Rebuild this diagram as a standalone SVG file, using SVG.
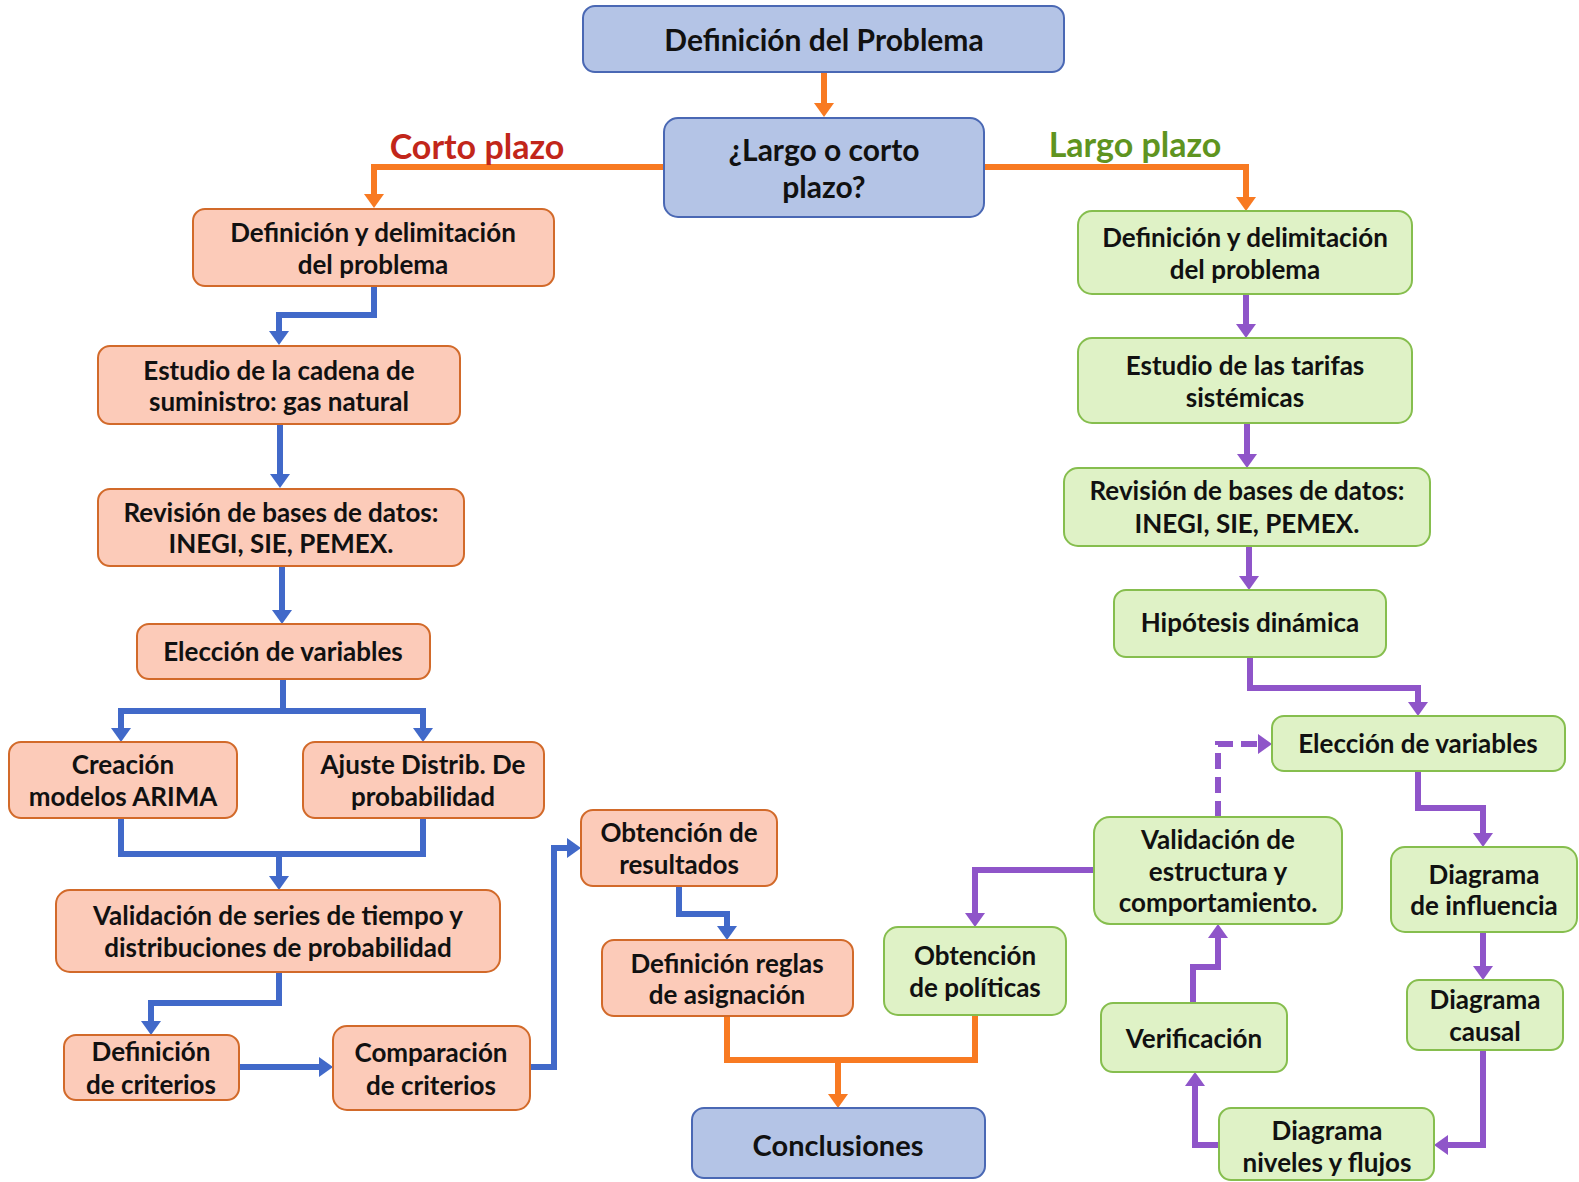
<svg xmlns="http://www.w3.org/2000/svg" width="1579" height="1182" viewBox="0 0 1579 1182">
<style>
text{font-family:Lato,"Open Sans","Liberation Sans",sans-serif;font-weight:bold;fill:#111;text-anchor:middle;dominant-baseline:central;font-size:26px}
.big{font-size:30px}
.nb rect{fill:#B4C4E6;stroke:#4A68B4;stroke-width:2}
.ns rect{fill:#FCCBB9;stroke:#D26A2A;stroke-width:2}
.ng rect{fill:#DFF2C6;stroke:#86BE4E;stroke-width:2}
.c{fill:none;stroke-width:6;stroke-linejoin:miter}
.o{stroke:#F87A22}
.b{stroke:#4169C9}
.p{stroke:#8F55C9}
.lab{font-size:34px}
</style>
<defs>
<marker id="ao" viewBox="0 0 14 20" refX="0" refY="10" markerWidth="14" markerHeight="20" markerUnits="userSpaceOnUse" orient="auto"><path d="M0,0 L14,10 L0,20 z" fill="#F87A22"/></marker>
<marker id="ab" viewBox="0 0 14 20" refX="0" refY="10" markerWidth="14" markerHeight="20" markerUnits="userSpaceOnUse" orient="auto"><path d="M0,0 L14,10 L0,20 z" fill="#4169C9"/></marker>
<marker id="ap" viewBox="0 0 14 20" refX="0" refY="10" markerWidth="14" markerHeight="20" markerUnits="userSpaceOnUse" orient="auto"><path d="M0,0 L14,10 L0,20 z" fill="#8F55C9"/></marker>
</defs>

<g id="connectors">
<path class="c o" d="M824,72 V103" marker-end="url(#ao)"/>
<path class="c o" d="M664,167 H374 V194" marker-end="url(#ao)"/>
<path class="c o" d="M984,167 H1246 V197" marker-end="url(#ao)"/>
<path class="c o" d="M727,1016 V1060 H975 V1015"/>
<path class="c o" d="M838,1060 V1094" marker-end="url(#ao)"/>

<path class="c b" d="M374,286 V315 H279 V331" marker-end="url(#ab)"/>
<path class="c b" d="M280,424 V474" marker-end="url(#ab)"/>
<path class="c b" d="M282,566 V610" marker-end="url(#ab)"/>
<path class="c b" d="M283,679 V711"/>
<path class="c b" d="M283,711 H121 V728" marker-end="url(#ab)"/>
<path class="c b" d="M283,711 H423 V728" marker-end="url(#ab)"/>
<path class="c b" d="M121,818 V854 H423 V818"/>
<path class="c b" d="M279,854 V876" marker-end="url(#ab)"/>
<path class="c b" d="M279,972 V1003 H151 V1021" marker-end="url(#ab)"/>
<path class="c b" d="M239,1067 H319" marker-end="url(#ab)"/>
<path class="c b" d="M530,1067 H554 V848 H567" marker-end="url(#ab)"/>
<path class="c b" d="M679,886 V914 H727 V926" marker-end="url(#ab)"/>

<path class="c p" d="M1246,294 V324" marker-end="url(#ap)"/>
<path class="c p" d="M1247,423 V454" marker-end="url(#ap)"/>
<path class="c p" d="M1249,546 V576" marker-end="url(#ap)"/>
<path class="c p" d="M1250,657 V688 H1418 V702" marker-end="url(#ap)"/>
<path class="c p" d="M1418,771 V808 H1483 V833" marker-end="url(#ap)"/>
<path class="c p" d="M1483,932 V966" marker-end="url(#ap)"/>
<path class="c p" d="M1483,1050 V1145 H1448" marker-end="url(#ap)"/>
<path class="c p" d="M1219,1145 H1195 V1086" marker-end="url(#ap)"/>
<path class="c p" d="M1193,1003 V967 H1218 V938" marker-end="url(#ap)"/>
<path class="c p" d="M1218,817 V744 H1258" stroke-dasharray="16 8" marker-end="url(#ap)"/>
<path class="c p" d="M1094,870 H975 V913" marker-end="url(#ap)"/>
</g>

<text class="lab" x="477" y="145" style="fill:#C2261A">Corto plazo</text>
<text class="lab" x="1135" y="143" style="fill:#5F9420">Largo plazo</text>

<g id="n-definicion-problema" class="nb"><rect x="583" y="6" width="481" height="66" rx="12"/><text class="big" x="824" y="39">Definición del Problema</text></g>
<g id="n-largo-corto" class="nb"><rect x="664" y="118" width="320" height="99" rx="14"/><text class="big" x="824" y="149">¿Largo o corto</text><text class="big" x="824" y="186">plazo?</text></g>

<g id="n-cp-definicion" class="ns"><rect x="193" y="209" width="361" height="77" rx="12"/><text x="373" y="232">Definición y delimitación</text><text x="373" y="264">del problema</text></g>
<g id="n-cp-estudio" class="ns"><rect x="98" y="346" width="362" height="78" rx="12"/><text x="279" y="370">Estudio de la cadena de</text><text x="279" y="401">suministro: gas natural</text></g>
<g id="n-cp-revision" class="ns"><rect x="98" y="489" width="366" height="77" rx="12"/><text x="281" y="512">Revisión de bases de datos:</text><text x="281" y="543">INEGI, SIE, PEMEX.</text></g>
<g id="n-cp-eleccion" class="ns"><rect x="137" y="624" width="293" height="55" rx="12"/><text x="283" y="651">Elección de variables</text></g>
<g id="n-arima" class="ns"><rect x="9" y="742" width="228" height="76" rx="12"/><text x="123" y="764">Creación</text><text x="123" y="796">modelos ARIMA</text></g>
<g id="n-ajuste" class="ns"><rect x="303" y="742" width="241" height="76" rx="12"/><text x="423" y="764">Ajuste Distrib. De</text><text x="423" y="796">probabilidad</text></g>
<g id="n-validacion-series" class="ns"><rect x="56" y="890" width="444" height="82" rx="14"/><text x="278" y="915">Validación de series de tiempo y</text><text x="278" y="947">distribuciones de probabilidad</text></g>
<g id="n-def-criterios" class="ns"><rect x="64" y="1035" width="175" height="65" rx="12"/><text x="151" y="1051">Definición</text><text x="151" y="1084">de criterios</text></g>
<g id="n-comparacion" class="ns"><rect x="333" y="1026" width="197" height="84" rx="14"/><text x="431" y="1052">Comparación</text><text x="431" y="1085">de criterios</text></g>
<g id="n-resultados" class="ns"><rect x="581" y="810" width="196" height="76" rx="12"/><text x="679" y="832">Obtención de</text><text x="679" y="864">resultados</text></g>
<g id="n-reglas" class="ns"><rect x="602" y="940" width="251" height="76" rx="12"/><text x="727" y="963">Definición reglas</text><text x="727" y="994">de asignación</text></g>

<g id="n-conclusiones" class="nb"><rect x="692" y="1108" width="293" height="70" rx="12"/><text class="big" x="838" y="1144" style="font-size:29px">Conclusiones</text></g>

<g id="n-politicas" class="ng"><rect x="884" y="927" width="182" height="88" rx="14"/><text x="975" y="955">Obtención</text><text x="975" y="987">de políticas</text></g>
<g id="n-lp-definicion" class="ng"><rect x="1078" y="211" width="334" height="83" rx="14"/><text x="1245" y="237">Definición y delimitación</text><text x="1245" y="269">del problema</text></g>
<g id="n-tarifas" class="ng"><rect x="1078" y="338" width="334" height="85" rx="14"/><text x="1245" y="365">Estudio de las tarifas</text><text x="1245" y="397">sistémicas</text></g>
<g id="n-lp-revision" class="ng"><rect x="1064" y="468" width="366" height="78" rx="14"/><text x="1247" y="490">Revisión de bases de datos:</text><text x="1247" y="523">INEGI, SIE, PEMEX.</text></g>
<g id="n-hipotesis" class="ng"><rect x="1114" y="590" width="272" height="67" rx="12"/><text x="1250" y="622">Hipótesis dinámica</text></g>
<g id="n-lp-eleccion" class="ng"><rect x="1272" y="716" width="293" height="55" rx="12"/><text x="1418" y="743">Elección de variables</text></g>
<g id="n-validacion-estructura" class="ng"><rect x="1094" y="817" width="248" height="107" rx="16"/><text x="1218" y="839">Validación de</text><text x="1218" y="871">estructura y</text><text x="1218" y="902">comportamiento.</text></g>
<g id="n-influencia" class="ng"><rect x="1391" y="847" width="186" height="85" rx="14"/><text x="1484" y="874">Diagrama</text><text x="1484" y="905">de influencia</text></g>
<g id="n-causal" class="ng"><rect x="1407" y="980" width="156" height="70" rx="12"/><text x="1485" y="999">Diagrama</text><text x="1485" y="1031">causal</text></g>
<g id="n-verificacion" class="ng"><rect x="1101" y="1003" width="186" height="69" rx="12"/><text x="1194" y="1038">Verificación</text></g>
<g id="n-niveles" class="ng"><rect x="1219" y="1108" width="215" height="72" rx="12"/><text x="1327" y="1130">Diagrama</text><text x="1327" y="1162">niveles y flujos</text></g>
</svg>
